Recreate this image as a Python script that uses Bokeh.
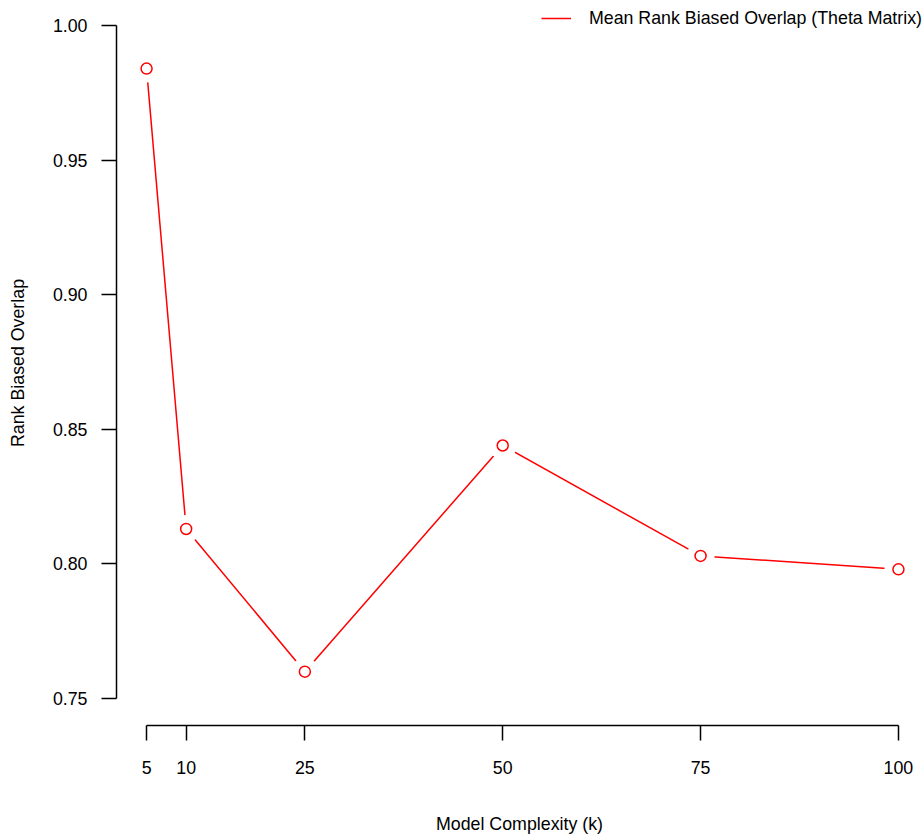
from bokeh.plotting import figure
from bokeh.models import FixedTicker, PrintfTickFormatter, Legend, LegendItem, Range1d
from bokeh.embed import file_html
from bokeh.resources import INLINE

# data
k_values = [5, 10, 25, 50, 75, 100]
rbo_values = [0.984, 0.813, 0.760, 0.844, 0.803, 0.798]
x_ticks = [5, 10, 25, 50, 75, 100]
y_ticks = [0.75, 0.80, 0.85, 0.90, 0.95, 1.00]
series_label = "Mean Rank Biased Overlap (Theta Matrix)"

FONT = "Liberation Sans"
FS = "17.8px"

p = figure(width=922, height=837, output_backend="svg", toolbar_location=None,
           x_range=Range1d(1.2, 103.04), y_range=Range1d(0.74, 1.0093),
           min_border_left=116, min_border_right=0, min_border_top=0, min_border_bottom=112)
p.background_fill_color = "white"
p.border_fill_color = "white"
p.outline_line_color = None
p.xgrid.visible = False
p.ygrid.visible = False

for ax in (p.xaxis[0], p.yaxis[0]):
    ax.axis_line_color = "black"
    ax.axis_line_width = 1.5
    ax.major_tick_line_color = "black"
    ax.major_tick_line_width = 1.5
    ax.major_tick_out = 15
    ax.major_tick_in = 0
    ax.minor_tick_line_color = None
    ax.major_label_text_font = FONT
    ax.major_label_text_font_size = FS
    ax.major_label_text_color = "black"
    ax.axis_label_text_font = FONT
    ax.axis_label_text_font_size = FS
    ax.axis_label_text_font_style = "normal"
    ax.axis_label_text_color = "black"

p.xaxis.ticker = FixedTicker(ticks=x_ticks)
p.xaxis.formatter = PrintfTickFormatter(format="%d")
p.xaxis.bounds = (5, 100)
p.xaxis.axis_label = "Model Complexity (k)"
p.xaxis.major_label_standoff = 20
p.xaxis.axis_label_standoff = 37

p.yaxis.ticker = FixedTicker(ticks=y_ticks)
p.yaxis.formatter = PrintfTickFormatter(format="%.2f")
p.yaxis.bounds = (0.75, 1.0)
p.yaxis.axis_label = "Rank Biased Overlap"
p.yaxis.major_label_standoff = 14
p.yaxis.major_label_orientation = "horizontal"
p.yaxis.axis_label_standoff = 22

line = p.line(k_values, rbo_values, line_color="red", line_width=1.5)
# gaps around points (R type="b")
p.scatter(k_values, rbo_values, size=28, marker="circle", fill_color="white", line_color=None)
p.scatter(k_values, rbo_values, size=11, marker="circle", fill_color="white",
          line_color="red", line_width=1.5)

legend = Legend(items=[LegendItem(label=series_label, renderers=[line])],
                location="top_right", margin=0, padding=4,
                glyph_width=30, glyph_height=36, label_height=36, label_standoff=18,
                label_text_font=FONT, label_text_font_size=FS, label_text_color="black",
                border_line_color=None, background_fill_alpha=0)
p.add_layout(legend)

open("out.html", "w").write(file_html(p, INLINE))
